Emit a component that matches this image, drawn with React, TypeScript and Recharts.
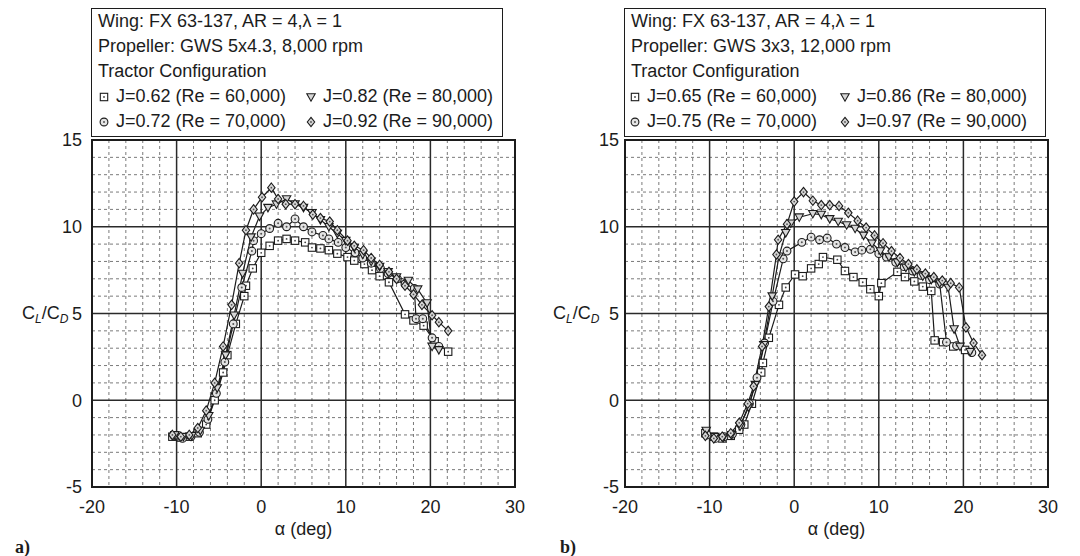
import React from "react";
import { LineChart, Line, XAxis, YAxis, CartesianGrid, ReferenceArea } from "recharts";

// [alpha (deg), CL/CD]
const aJ062 = [[-10.5,-2.1],[-9.5,-2.15],[-8.5,-2.1],[-7.5,-1.9],[-6.5,-1.4],[-5.5,0.0],[-4.5,1.6],[-4.0,2.6],[-3.0,4.4],[-2.0,6.0],[-1.8,6.6],[-1.0,7.6],[0.0,8.5],[1.0,8.9],[2.0,9.2],[3.0,9.3],[4.0,9.2],[5.2,9.1],[6.0,8.8],[7.0,8.75],[8.0,8.65],[9.0,8.45],[10.2,8.25],[11.0,8.05],[12.2,7.85],[13.1,7.5],[14.0,7.15],[15.1,6.8],[17.0,4.95],[18.0,4.6],[19.2,4.3],[20.5,3.4],[22.1,2.8]];
const aJ072 = [[-10.3,-2.05],[-9.3,-2.2],[-8.3,-2.1],[-7.3,-1.85],[-6.3,-1.1],[-5.3,0.4],[-4.3,2.2],[-3.3,4.4],[-2.3,6.5],[-1.1,8.6],[-0.9,9.2],[0.0,9.6],[1.0,9.9],[2.0,10.2],[3.0,10.0],[4.0,10.45],[5.0,10.0],[6.0,9.7],[7.3,9.5],[8.0,9.3],[9.1,9.1],[10.0,8.8],[11.1,8.5],[12.0,8.2],[13.0,7.9],[14.1,7.6],[15.0,7.3],[16.1,7.0],[17.0,6.7],[18.1,6.45],[18.3,4.7],[19.1,4.7],[20.2,3.6],[21.0,3.1]];
const aJ082 = [[-10.2,-2.0],[-9.2,-2.1],[-8.2,-2.05],[-7.2,-1.75],[-6.2,-0.9],[-5.2,0.7],[-4.2,2.6],[-3.2,4.9],[-2.2,7.3],[-1.2,9.4],[-0.2,10.6],[0.8,11.1],[1.8,11.3],[3.0,11.6],[4.0,11.3],[5.0,11.1],[6.0,10.8],[7.0,10.4],[8.0,10.0],[9.0,9.6],[10.0,9.2],[11.0,8.8],[12.0,8.4],[13.0,8.0],[14.0,7.7],[15.0,7.4],[16.0,7.1],[17.4,6.9],[18.5,6.4],[19.6,5.6],[20.2,3.1],[21.0,2.9]];
const aJ092 = [[-10.5,-2.0],[-9.5,-2.1],[-8.5,-2.0],[-7.5,-1.6],[-6.5,-0.6],[-5.5,1.0],[-4.5,3.1],[-3.5,5.5],[-2.6,7.9],[-1.8,9.8],[-0.9,11.0],[0.1,11.7],[1.2,12.25],[2.0,11.6],[2.9,11.3],[4.0,11.3],[5.0,11.2],[6.1,10.7],[7.0,10.5],[8.1,10.3],[9.0,9.8],[10.2,9.2],[11.0,8.9],[12.1,8.65],[13.0,8.2],[14.0,7.8],[15.1,7.4],[16.0,7.0],[17.0,6.6],[18.0,6.1],[19.0,5.5],[20.2,4.9],[21.0,4.5],[22.1,4.0]];

const bJ065 = [[-10.5,-1.9],[-9.5,-2.1],[-8.5,-2.2],[-7.5,-2.05],[-6.5,-1.7],[-5.9,-1.4],[-5.0,-0.2],[-3.9,1.6],[-3.7,2.15],[-3.0,3.6],[-1.8,5.5],[-1.0,6.5],[0.1,7.25],[1.0,7.15],[2.0,7.6],[2.9,7.85],[3.4,8.25],[5.1,8.1],[6.0,7.45],[7.0,7.1],[8.1,6.8],[9.0,6.4],[10.0,6.0],[10.3,6.75],[12.2,7.4],[13.1,7.1],[14.2,6.85],[15.2,6.55],[16.2,6.3],[16.6,3.45],[17.6,3.35],[18.8,3.1],[20.2,2.9]];
const bJ075 = [[-10.3,-2.0],[-9.3,-2.2],[-8.3,-2.1],[-7.3,-1.95],[-6.3,-1.4],[-5.3,-0.2],[-4.4,1.3],[-3.5,3.3],[-2.5,5.7],[-1.3,8.15],[-0.85,8.6],[0.9,9.1],[2.0,9.4],[3.0,9.25],[3.9,9.35],[5.0,9.0],[6.0,8.8],[7.2,8.55],[8.0,8.65],[9.0,8.7],[10.0,8.45],[10.9,8.25],[12.0,7.95],[13.0,7.7],[14.0,7.45],[15.0,7.2],[16.0,6.95],[17.2,6.7],[18.0,3.35],[19.2,3.15],[21.0,2.75]];
const bJ086 = [[-10.4,-1.75],[-9.4,-2.1],[-8.4,-2.15],[-7.4,-2.0],[-6.4,-1.5],[-5.4,-0.4],[-4.6,0.9],[-3.6,3.2],[-2.6,6.0],[-1.8,8.3],[-1.0,9.65],[-0.4,10.2],[0.6,10.55],[2.2,10.75],[3.2,10.7],[4.2,10.45],[5.2,10.3],[6.2,10.1],[7.2,9.9],[8.2,9.5],[9.2,9.05],[10.2,8.6],[11.2,8.25],[12.2,7.95],[13.2,7.65],[14.2,7.4],[15.2,7.15],[16.2,6.95],[17.2,6.75],[18.2,6.5],[18.9,4.1],[19.6,3.1],[20.8,2.8]];
const bJ097 = [[-10.5,-2.05],[-9.5,-2.2],[-8.5,-2.1],[-7.5,-1.9],[-6.5,-1.3],[-5.5,-0.2],[-4.8,0.8],[-3.8,3.1],[-3.0,5.4],[-2.1,8.4],[-1.9,9.25],[-0.85,10.15],[0.0,11.45],[1.1,12.0],[2.2,11.5],[3.2,11.25],[4.2,11.25],[5.3,11.2],[6.4,10.8],[7.5,10.35],[8.5,9.95],[9.5,9.5],[10.5,9.05],[11.5,8.6],[12.5,8.2],[13.5,7.85],[14.5,7.55],[15.5,7.3],[16.5,7.1],[17.5,6.9],[18.5,6.75],[19.5,6.5],[20.3,4.2],[21.2,3.3],[22.2,2.6]];

const xMajor = [-20, -10, 0, 10, 20, 30];
const xMinor = [-18, -16, -14, -12, -8, -6, -4, -2, 2, 4, 6, 8, 12, 14, 16, 18, 22, 24, 26, 28];
const yMajor = [-5, 0, 5, 10, 15];
const yMinor = [-4, -3, -2, -1, 1, 2, 3, 4, 6, 7, 8, 9, 11, 12, 13, 14];

const aTitle = ["Wing: FX 63-137, AR = 4,\u03bb = 1", "Propeller: GWS 5x4.3, 8,000 rpm", "Tractor Configuration"];
const bTitle = ["Wing: FX 63-137, AR = 4,\u03bb = 1", "Propeller: GWS 3x3, 12,000 rpm", "Tractor Configuration"];
const aLabels = ["J=0.62 (Re = 60,000)", "J=0.72 (Re = 70,000)", "J=0.82 (Re = 80,000)", "J=0.92 (Re = 90,000)"];
const bLabels = ["J=0.65 (Re = 60,000)", "J=0.75 (Re = 70,000)", "J=0.86 (Re = 80,000)", "J=0.97 (Re = 90,000)"];
const kinds = ["square", "circle", "triangle", "diamond"];

const INK = "#1c1c1c";
const FONT = "'Liberation Sans', Arial, Helvetica, sans-serif";

const toPts = (arr: number[][]) => arr.map(([x, y]) => ({ x, y }));

function Marker({ kind, cx, cy }: { kind: string; cx: number; cy: number }) {
  if (cx == null || cy == null) return null;
  if (kind === "square")
    return (
      <g>
        <rect x={cx - 3.7} y={cy - 3.7} width={7.4} height={7.4} fill="#fff" stroke={INK} strokeWidth={1.1} />
        <circle cx={cx} cy={cy} r={0.9} fill="#444" />
      </g>
    );
  if (kind === "circle")
    return (
      <g>
        <circle cx={cx} cy={cy} r={3.9} fill="#e4e4e4" stroke={INK} strokeWidth={1.1} />
        <circle cx={cx} cy={cy} r={1} fill="#555" />
      </g>
    );
  if (kind === "triangle")
    return (
      <polygon
        points={`${cx - 4.2},${cy - 3.3} ${cx + 4.2},${cy - 3.3} ${cx},${cy + 4.2}`}
        fill="#d6d6d6"
        stroke={INK}
        strokeWidth={1.1}
      />
    );
  return (
    <g>
      <polygon
        points={`${cx},${cy - 4.7} ${cx + 3.7},${cy} ${cx},${cy + 4.7} ${cx - 3.7},${cy}`}
        fill="#d6d6d6"
        stroke={INK}
        strokeWidth={1.1}
      />
      <circle cx={cx} cy={cy} r={0.9} fill="#555" />
    </g>
  );
}

const dotFor = (kind: string) => (p: any) =>
  <Marker key={`${kind}-${p.index}`} kind={kind} cx={p.cx} cy={p.cy} />;

function LegendBox({ left, width, title, labels, textOff, col2 }: any) {
  const row = (i: number) => (
    <div style={{ position: "relative", height: 25 }}>
      {[i, i + 2].map((k, c) => (
        <div key={k} style={{ position: "absolute", left: c === 0 ? 0 : col2, top: 0, whiteSpace: "nowrap" }}>
          <svg width={14} height={25} style={{ position: "absolute", left: textOff - 19, top: 0 }}>
            <Marker kind={kinds[k]} cx={7} cy={13} />
          </svg>
          <span style={{ position: "absolute", left: textOff, top: 0 }}>{labels[k]}</span>
        </div>
      ))}
    </div>
  );
  return (
    <div
      style={{
        position: "absolute",
        left,
        top: 8,
        width,
        height: 127,
        border: `1.6px solid ${INK}`,
        background: "#fff",
        fontSize: 18,
        lineHeight: "25px",
        color: INK,
        paddingLeft: 6,
        boxSizing: "content-box",
      }}
    >
      {title.map((t: string) => (
        <div key={t} style={{ whiteSpace: "nowrap" }}>{t}</div>
      ))}
      {row(0)}
      {row(1)}
    </div>
  );
}

function Panel({ left, mLeft, mRight, series, title, labels, tag, yLabLeft, tickGap, boxW, tagLeft }: any) {
  return (
    <div style={{ position: "absolute", left, top: 0, width: 540, height: 556 }}>
      <LineChart width={540} height={556} margin={{ top: 140, right: mRight, bottom: 39, left: mLeft }}>
        <XAxis
          dataKey="x"
          type="number"
          domain={[-20, 30]}
          ticks={xMajor}
          interval={0}
          allowDataOverflow
          axisLine={false}
          tickLine={false}
          tickSize={6}
          tickMargin={7}
          height={30}
          tick={{ fontSize: 18, fill: INK, fontFamily: FONT }}
        />
        <YAxis
          type="number"
          domain={[-5, 15]}
          ticks={yMajor}
          interval={0}
          allowDataOverflow
          axisLine={false}
          tickLine={false}
          tickSize={tickGap[0]}
          tickMargin={tickGap[1]}
          width={60}
          tick={{ fontSize: 18, fill: INK, fontFamily: FONT }}
        />
        <CartesianGrid
          verticalValues={xMinor}
          horizontalValues={yMinor}
          stroke="#7a7a7a"
          strokeDasharray="3 3"
          strokeWidth={1}
        />
        <CartesianGrid stroke="#2a2a2a" strokeWidth={1.5} />
        <ReferenceArea x1={-20} x2={30} y1={-5} y2={15} fill="none" stroke={INK} strokeWidth={2} />
        {series.map((s: number[][], i: number) => (
          <Line
            key={i}
            data={toPts(s)}
            dataKey="y"
            type="linear"
            stroke={INK}
            strokeWidth={1.2}
            dot={dotFor(kinds[i])}
            activeDot={false}
            isAnimationActive={false}
          />
        ))}
      </LineChart>
      <LegendBox
        left={mLeft + 59}
        width={boxW}
        title={title}
        labels={labels}
        textOff={left === 0 ? 18 : 16}
        col2={left === 0 ? 207 : 210}
      />
      <div
        style={{
          position: "absolute",
          left: yLabLeft,
          top: 302,
          fontSize: 18,
          lineHeight: "22px",
          color: INK,
          whiteSpace: "nowrap",
        }}
      >
        C<sub style={{ fontSize: 12, fontStyle: "italic", verticalAlign: "-4px" }}>L</sub>/C
        <sub style={{ fontSize: 12, fontStyle: "italic", verticalAlign: "-4px" }}>D</sub>
      </div>
      <div
        style={{
          position: "absolute",
          left: mLeft + 60,
          width: 423,
          top: 519,
          textAlign: "center",
          fontSize: 18,
          color: INK,
        }}
      >
        {"\u03b1 (deg)"}
      </div>
      <div
        style={{
          position: "absolute",
          left: tagLeft,
          top: 538,
          lineHeight: "18px",
          fontFamily: "'Liberation Serif', 'Times New Roman', serif",
          fontWeight: "bold",
          fontSize: 18,
          color: INK,
        }}
      >
        {tag}
      </div>
    </div>
  );
}

export default function App() {
  return (
    <div
      style={{
        position: "absolute",
        left: 0,
        top: 0,
        width: 1080,
        height: 556,
        background: "#fff",
        fontFamily: FONT,
        overflow: "hidden",
      }}
    >
      <Panel
        left={0}
        mLeft={32}
        mRight={25}
        series={[aJ062, aJ072, aJ082, aJ092]}
        title={aTitle}
        labels={aLabels}
        tag="a)"
        yLabLeft={22}
        tickGap={[6, 4]}
        boxW={404}
        tagLeft={15}
      />
      <Panel
        left={540}
        mLeft={25}
        mRight={32}
        series={[bJ065, bJ075, bJ086, bJ097]}
        title={bTitle}
        labels={bLabels}
        tag="b)"
        yLabLeft={13}
        tickGap={[3, 3]}
        boxW={414}
        tagLeft={20}
      />
    </div>
  );
}
